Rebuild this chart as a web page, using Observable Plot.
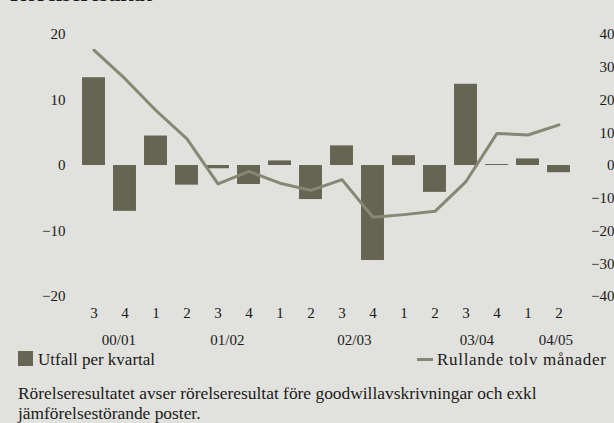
<!DOCTYPE html>
<html>
<head>
<meta charset="utf-8">
<script src="https://cdn.jsdelivr.net/npm/d3@7"></script>
<script src="https://cdn.jsdelivr.net/npm/@observablehq/plot@0.6"></script>
<style>
  html, body { margin: 0; padding: 0; background: #e1e1dd; }
  #wrap { position: relative; width: 614px; height: 423px; overflow: hidden; background: #e1e1dd;
          font-family: "Liberation Serif", "DejaVu Serif", serif; color: #1a1a1a; }
  #title { position: absolute; left: 10px; top: -17px; font-size: 22px; line-height: 22px; font-weight: bold; white-space: nowrap; }
  #chart { position: absolute; left: 0; top: 0; }
  .leg { position: absolute; font-size: 17px; line-height: 17px; white-space: nowrap; }
  #caption { position: absolute; left: 18px; top: 383px; font-size: 17.4px; line-height: 20px; width: 596px; }
</style>
</head>
<body>
<div id="wrap">
  <div id="title">Rörelseresultat</div>
  <div id="chart"></div>
  <div class="leg" style="left:18px; top:351px;"><span style="display:inline-block;width:15px;height:15px;background:#666452;vertical-align:-1px;margin-right:5px;"></span>Utfall per kvartal</div>
  <div class="leg" style="left:417px; top:351px; letter-spacing:0.7px;"><span style="display:inline-block;width:16px;height:3.5px;background:#878776;vertical-align:4px;margin-right:4px;"></span>Rullande tolv månader</div>
  <div id="caption">Rörelseresultatet avser rörelseresultat före goodwillavskrivningar och exkl jämförelsestörande poster.</div>
</div>
<script>
// Quarter labels (fiscal quarters), quarterly result (left axis), rolling 12 months (right axis)
const quarters = ["3","4","1","2","3","4","1","2","3","4","1","2","3","4","1","2"];
const quarterly = [13.4, -7.0, 4.5, -3.0, -0.5, -2.9, 0.7, -5.2, 3.0, -14.5, 1.5, -4.1, 12.4, 0.15, 1.0, -1.1];
const rolling = [35.2, 26.5, 16.8, 8.1, -5.6, -1.8, -5.4, -7.6, -4.3, -15.8, -15.0, -14.0, -4.9, 9.8, 9.3, 12.4];
const yearLabels = ["00/01", "01/02", "02/03", "03/04", "04/05"];
const yearAnchor = [0.8, 4.3, 8.4, 12.35, 14.9];
const leftTicks = [-20, -10, 0, 10, 20];
const rightTicks = [-40, -30, -20, -10, 0, 10, 20, 30, 40];

const minus = v => String(v).replace("-", "\u2212");

const data = quarters.map((q, i) => ({i, q, v: quarterly[i], r: rolling[i]}));
const years = yearLabels.map((label, k) => ({label, pos: yearAnchor[k]}));
const half = 0.37;

const chart = Plot.plot({
  width: 614,
  height: 350,
  marginLeft: 78,
  marginRight: 40,
  marginTop: 34,
  marginBottom: 54,
  style: {background: "transparent", fontFamily: "Liberation Serif, serif", fontSize: "15px", color: "#1a1a1a", overflow: "visible"},
  x: {domain: [-0.5, 15.5], axis: null},
  y: {domain: [-20, 20], axis: null},
  marks: [
    Plot.rectY(data, {x1: d => d.i - half, x2: d => d.i + half, y1: 0, y2: "v", fill: "#666452"}),
    Plot.line(data, {x: "i", y: d => d.r / 2, stroke: "#878776", strokeWidth: 3}),
    Plot.axisY({ticks: leftTicks, tickSize: 0, tickPadding: 13, tickFormat: minus, fontSize: 15, label: null}),
    Plot.text(rightTicks, {x: 15.5, y: d => d / 2, text: d => minus(d), textAnchor: "end", dx: 40, fontSize: 15}),
    Plot.text(data, {x: "i", text: "q", frameAnchor: "bottom", dy: 21, fontSize: 15}),
    Plot.text(years, {x: "pos", text: "label", frameAnchor: "bottom", dy: 48, fontSize: 15})
  ]
});
document.getElementById("chart").appendChild(chart);
</script>
</body>
</html>
